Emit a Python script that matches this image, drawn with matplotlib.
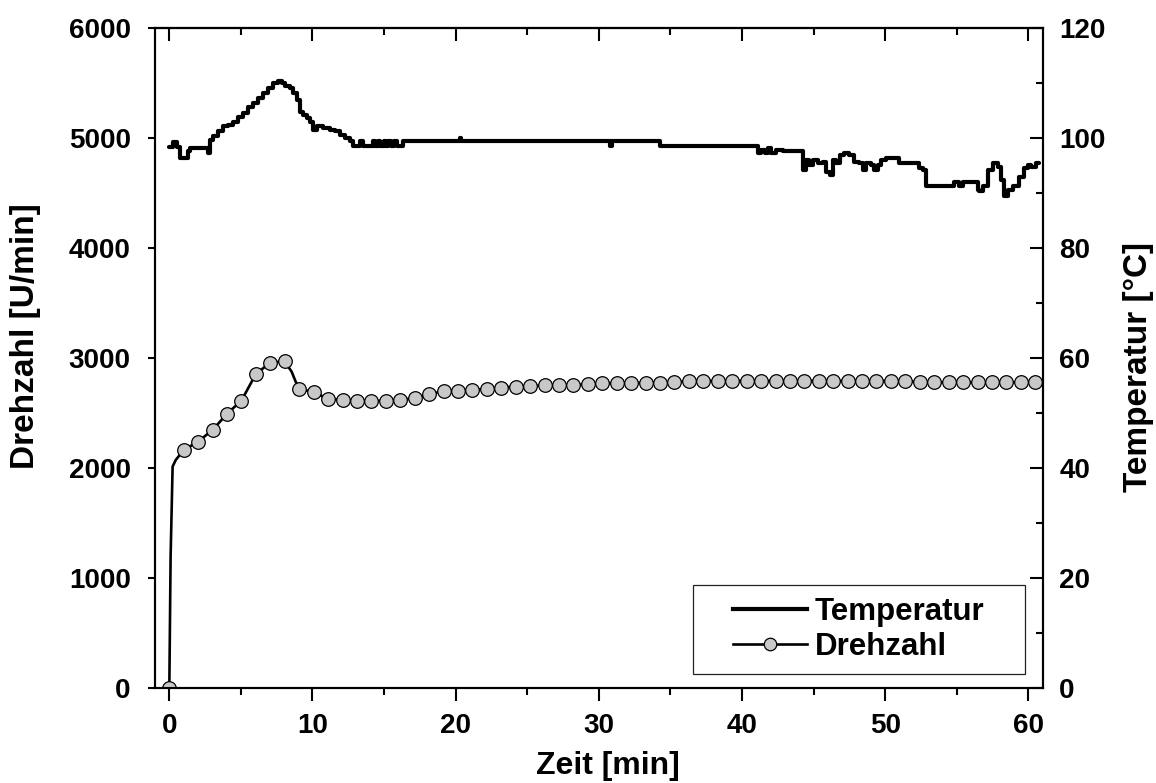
import matplotlib
matplotlib.use("Agg")
import matplotlib.pyplot as plt
from matplotlib.lines import Line2D
from matplotlib.patches import Rectangle
from matplotlib.ticker import MultipleLocator

plt.rcParams['font.family'] = ['Liberation Sans', 'DejaVu Sans']
plt.rcParams['font.weight'] = 'bold'

# ---------------- data ----------------
# Drehzahl (rpm) sampled about once per minute (markers)
drehzahl_t = [0.0, 1.01, 2.02, 3.02, 4.03, 5.04, 6.05, 7.06, 8.06, 9.07, 10.08,
              11.09, 12.10, 13.10, 14.11, 15.12, 16.13, 17.14, 18.14, 19.15, 20.16,
              21.17, 22.18, 23.18, 24.19, 25.20, 26.21, 27.22, 28.22, 29.23, 30.24,
              31.25, 32.26, 33.26, 34.27, 35.28, 36.29, 37.30, 38.30, 39.31, 40.32,
              41.33, 42.34, 43.34, 44.35, 45.36, 46.37, 47.38, 48.38, 49.39, 50.40,
              51.41, 52.42, 53.42, 54.43, 55.44, 56.45, 57.46, 58.46, 59.47, 60.48]
drehzahl_v = [0, 2166, 2242, 2348, 2494, 2615, 2857, 2960, 2970, 2721, 2691,
              2630, 2621, 2615, 2612, 2612, 2621, 2636, 2675, 2697, 2706,
              2712, 2721, 2733, 2742, 2748, 2752, 2752, 2757, 2763, 2770,
              2775, 2775, 2778, 2778, 2780, 2794, 2794, 2794, 2794, 2794,
              2794, 2794, 2794, 2794, 2794, 2794, 2794, 2794, 2794, 2794,
              2794, 2780, 2780, 2780, 2780, 2780, 2780, 2780, 2780, 2780]
# additional points of the continuous Drehzahl trace between markers
drehzahl_extra_t = [0.09, 0.23, 0.45, 8.54, 8.82]
drehzahl_extra_v = [1196, 2015, 2075, 2878, 2788]

# Temperatur (deg C)
temp_t = [0.0, 0.23, 0.51, 0.75, 1.10, 1.33, 1.44, 2.61, 2.72, 2.84, 3.07, 3.42, 3.77,
          4.12, 4.47, 4.82, 5.16, 5.51, 5.86, 6.21, 6.56, 6.91, 7.26, 7.61, 7.84,
          8.07, 8.42, 8.65, 8.89, 9.12, 9.35, 9.59, 9.82, 10.05, 10.28, 10.75, 11.21,
          11.56, 11.91, 12.26, 12.61, 12.84, 13.20, 13.30, 13.50, 14.10, 14.20, 14.35,
          14.60, 14.70, 15.00, 15.10, 15.30, 15.50, 15.70, 15.90, 16.33, 20.20, 20.29,
          20.40, 30.70, 30.75, 30.90, 34.24, 34.30, 40.99, 41.10, 41.34, 41.57, 41.80,
          42.03, 42.39, 42.85, 44.13, 44.24, 44.48, 44.71, 44.94, 45.29, 45.64, 45.88,
          46.11, 46.34, 46.57, 46.81, 47.15, 47.50, 47.85, 48.20, 48.43, 48.67, 49.01,
          49.25, 49.48, 49.71, 50.06, 50.76, 50.99, 52.16, 52.39, 52.62, 52.85, 54.71,
          54.83, 55.18, 55.41, 56.11, 56.46, 56.57, 56.80, 57.15, 57.50, 57.85, 58.09,
          58.32, 58.55, 58.90, 59.36, 59.71, 59.94, 60.18, 60.53, 60.76]
temp_v = [98.4, 99.2, 98.4, 96.4, 96.4, 97.6, 98.2, 98.2, 97.3, 99.7, 100.3, 101.2, 102.1,
          102.4, 103.0, 103.9, 104.5, 105.7, 106.3, 107.3, 108.2, 109.1, 110.0, 110.3, 110.0,
          109.4, 109.1, 108.2, 106.9, 104.8, 104.2, 103.6, 103.0, 101.5, 102.1, 101.8, 101.5,
          101.2, 100.6, 100.0, 99.4, 98.5, 98.5, 99.4, 98.5, 98.5, 99.4, 98.5,
          99.4, 98.5, 99.4, 98.5, 99.4, 98.5, 99.4, 98.5, 99.4, 99.4, 100.0,
          99.4, 99.4, 98.5, 99.4, 99.4, 98.5, 98.5, 97.3, 97.9, 97.3, 98.2,
          97.3, 97.9, 97.6, 97.6, 94.2, 96.1, 95.1, 96.1, 95.5, 95.7, 93.9,
          93.3, 96.1, 95.5, 97.0, 97.3, 97.0, 95.7, 95.5, 94.2, 95.5, 95.1,
          94.2, 95.1, 96.1, 96.4, 96.4, 95.5, 95.5, 94.6, 94.2, 91.2, 91.2,
          92.1, 91.2, 92.1, 92.1, 90.6, 90.3, 91.2, 94.2, 95.5, 94.8, 92.4,
          89.4, 90.6, 91.2, 93.0, 94.6, 95.1, 94.8, 95.5, 95.5]

x_ticks = [0, 10, 20, 30, 40, 50, 60]
left_ticks = [0, 1000, 2000, 3000, 4000, 5000, 6000]
right_ticks = [0, 20, 40, 60, 80, 100, 120]

xlabel = "Zeit [min]"
ylabel_left = "Drehzahl [U/min]"
ylabel_right = "Temperatur [°C]"
legend_labels = ["Temperatur", "Drehzahl"]

# ---------------- figure ----------------
W, H = 1156, 783
fig = plt.figure(figsize=(W / 100, H / 100), dpi=100)
ax_l, ax_r, ax_b, ax_t = 155, 1042.7, 688.3, 28.0
ax = fig.add_axes([ax_l / W, 1 - ax_b / H, (ax_r - ax_l) / W, (ax_b - ax_t) / H])
ax2 = ax.twinx()

marker_face = '#c8c8c8'

# dense Drehzahl line
pairs = sorted(zip(drehzahl_t + drehzahl_extra_t, drehzahl_v + drehzahl_extra_v))
line_t = [p[0] for p in pairs]
line_v = [p[1] for p in pairs]
ax.plot(line_t, line_v, color='black', lw=1.9, zorder=2, solid_joinstyle='round')
ax.plot(drehzahl_t, drehzahl_v, linestyle='none', marker='o', markersize=9.8,
        markerfacecolor=marker_face, markeredgecolor='black', markeredgewidth=0.9, zorder=3)

ax2.plot(temp_t, temp_v, color='black', lw=3.0, drawstyle='steps-post',
         solid_joinstyle='round', solid_capstyle='round', zorder=3)

ax.set_xlim(-1, 61)
ax.set_ylim(0, 6000)
ax2.set_ylim(0, 120)

ax.set_xticks(x_ticks)
ax.xaxis.set_minor_locator(MultipleLocator(5))
ax.set_yticks(left_ticks)
ax2.set_yticks(right_ticks)
ax2.yaxis.set_minor_locator(MultipleLocator(10))

for a in (ax, ax2):
    for s in a.spines.values():
        s.set_linewidth(1.5)

ax.tick_params(axis='x', which='major', direction='out', length=9.5, width=1.5,
               labelsize=20, pad=8, top=False)
ax.tick_params(axis='x', which='minor', direction='out', length=5, width=1.5, top=False)
ax.tick_params(axis='y', which='major', direction='out', length=5, width=1.5,
               labelsize=20, pad=12.5, right=False)
ax2.tick_params(axis='y', which='major', direction='in', length=9.5, width=1.5,
                labelsize=20, pad=12, left=False)
ax2.tick_params(axis='y', which='minor', direction='in', length=5, width=1.5, left=False)

top = ax.secondary_xaxis('top')
top.set_xticks(x_ticks)
top.xaxis.set_minor_locator(MultipleLocator(5))
top.tick_params(axis='x', which='major', direction='in', length=9.5, width=1.5, labeltop=False)
top.tick_params(axis='x', which='minor', direction='in', length=5, width=1.5, labeltop=False)
top.spines['top'].set_linewidth(1.5)

for lab in ax.get_xticklabels() + ax.get_yticklabels() + ax2.get_yticklabels():
    lab.set_fontweight('bold')

# axis labels
fig.text(608 / W, 1 - 766 / H, xlabel, ha='center', va='center', fontsize=23, fontweight='bold')
fig.text(26 / W, 1 - 336 / H, ylabel_left, ha='center', va='center', rotation=90,
         fontsize=24, fontweight='bold')
fig.text(1139 / W, 1 - 367 / H, ylabel_right, ha='center', va='center', rotation=90,
         fontsize=24, fontweight='bold')

# legend with box
def ax_x(px):
    return (px - ax_l) / (ax_r - ax_l)

def ax_y(py):
    return (ax_b - py) / (ax_b - ax_t)

bx0, bx1, by0, by1 = 692.7, 1024.7, 674, 585
rect = Rectangle((ax_x(bx0), ax_y(by0)), ax_x(bx1) - ax_x(bx0), ax_y(by1) - ax_y(by0),
                 transform=ax2.transAxes, facecolor='white', edgecolor='#222222', lw=0.9, zorder=5)
ax2.add_patch(rect)

h_temp = Line2D([], [], color='black', lw=3.0)
h_dreh = Line2D([], [], color='black', lw=1.9, marker='o', markersize=9.0,
                markerfacecolor=marker_face, markeredgecolor='black', markeredgewidth=0.9)
leg = ax2.legend([h_temp, h_dreh], legend_labels, loc='center',
                 bbox_to_anchor=(ax_x((bx0 + bx1) / 2), ax_y((by0 + by1) / 2)),
                 frameon=False, handlelength=2.35, handletextpad=0.26,
                 labelspacing=0.15, borderpad=0, borderaxespad=0,
                 prop={'weight': 'bold', 'size': 22.5})
leg.set_zorder(6)

fig.savefig("out.png", dpi=100)
